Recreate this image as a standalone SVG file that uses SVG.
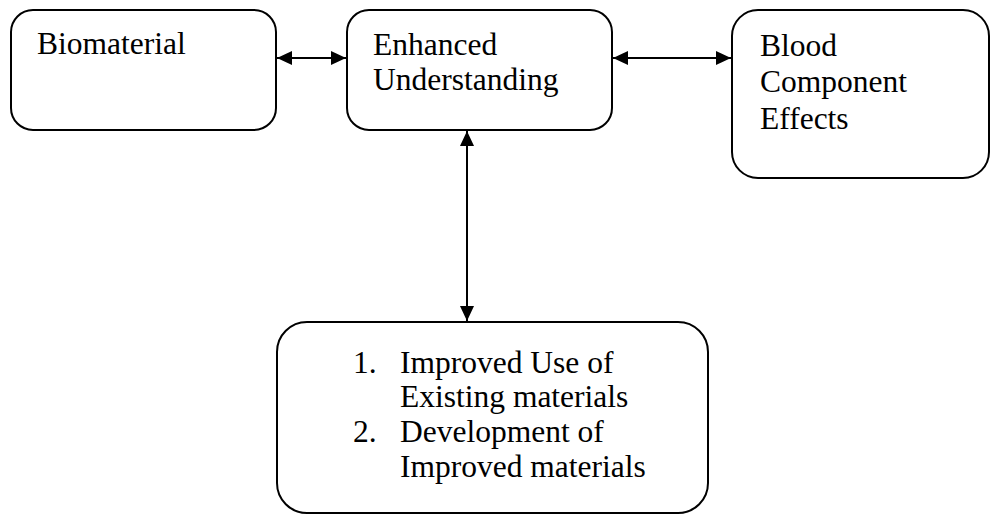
<svg xmlns="http://www.w3.org/2000/svg" width="991" height="514" viewBox="0 0 991 514">
<style>
.box{fill:#fff;stroke:#000;stroke-width:2}
.t{font-family:"Liberation Serif","Times New Roman",serif;font-size:31.5px;fill:#000}
.c{stroke:#000;stroke-width:2;fill:none}
</style>
<defs>
<marker id="ah" viewBox="0 0 15 14" refX="15" refY="7" markerWidth="15" markerHeight="14" markerUnits="userSpaceOnUse" orient="auto-start-reverse">
<path d="M0,0 L15,7 L0,14 Z" fill="#000"/>
</marker>
</defs>
<rect width="991" height="514" fill="#fff"/>
<g id="biomaterial">
<rect class="box" x="11" y="10" width="265" height="120" rx="22"/>
<text class="t" x="37" y="54">Biomaterial</text>
</g>
<g id="enhanced">
<rect class="box" x="347" y="10" width="265" height="120" rx="22"/>
<text class="t" x="373" y="55">Enhanced</text>
<text class="t" x="373" y="90">Understanding</text>
</g>
<g id="blood">
<rect class="box" x="732" y="10" width="257" height="168" rx="26"/>
<text class="t" x="760" y="56">Blood</text>
<text class="t" x="760" y="92">Component</text>
<text class="t" x="760" y="129">Effects</text>
</g>
<g id="improved">
<rect class="box" x="277" y="322" width="431" height="191" rx="30"/>
<text class="t" x="353" y="373">1.</text>
<text class="t" x="400" y="373">Improved Use of</text>
<text class="t" x="400" y="407">Existing materials</text>
<text class="t" x="353" y="442">2.</text>
<text class="t" x="400" y="442">Development of</text>
<text class="t" x="400" y="477">Improved materials</text>
</g>
<g id="connectors">
<line class="c" x1="277" y1="58" x2="346" y2="58" marker-start="url(#ah)" marker-end="url(#ah)"/>
<line class="c" x1="613" y1="58" x2="731" y2="58" marker-start="url(#ah)" marker-end="url(#ah)"/>
<line class="c" x1="467" y1="131" x2="467" y2="321" marker-start="url(#ah)" marker-end="url(#ah)"/>
</g>
</svg>
